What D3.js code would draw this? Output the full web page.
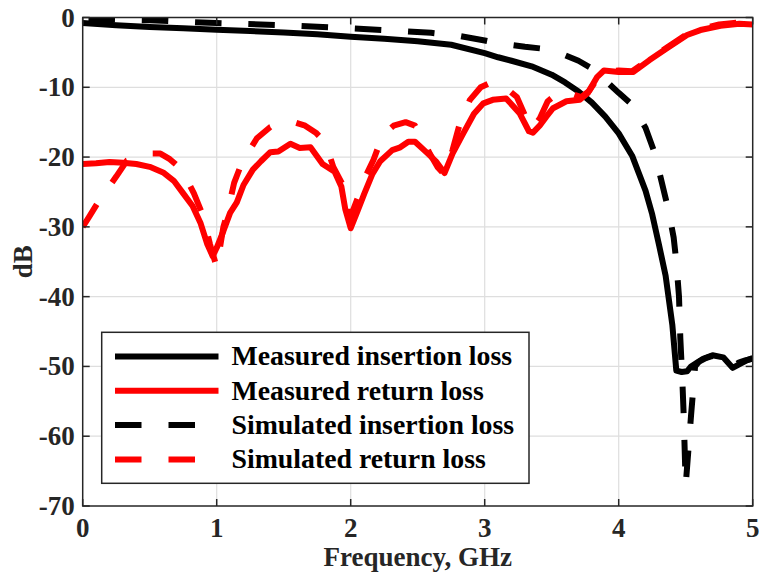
<!DOCTYPE html>
<html>
<head>
<meta charset="utf-8">
<script src="https://cdn.jsdelivr.net/npm/d3@7"></script>
<style>
	body { margin: 0; background: #fff; }
	svg text { font-family: "Liberation Serif", "Times New Roman", serif; font-weight: bold; fill: #262626; }
</style>
</head>
<body>
<div id="chart"></div>
<script>
// measured insertion loss
const measIlFreq = [0, 0.25, 0.5, 0.75, 1.0, 1.25, 1.5, 1.75, 2.0, 2.25, 2.5, 2.75, 3.0, 3.1, 3.2, 3.35, 3.5, 3.6, 3.7, 3.8, 3.9, 4.0, 4.1, 4.15, 4.2, 4.25, 4.3, 4.35, 4.4, 4.43, 4.47, 4.51, 4.54, 4.58, 4.63, 4.7, 4.78, 4.85, 4.92, 4.96, 5.0];
const measIlDb = [-0.8, -1.1, -1.35, -1.55, -1.75, -1.95, -2.15, -2.4, -2.75, -3.05, -3.4, -3.9, -5.1, -5.7, -6.2, -7.0, -8.2, -9.3, -10.6, -12.2, -14.2, -16.6, -19.8, -22.3, -24.8, -28.2, -32.5, -37, -44, -50.6, -50.8, -50.7, -50.0, -49.5, -48.9, -48.4, -48.7, -50.2, -49.5, -49.1, -48.8];

// measured return loss
const measRlFreq = [0, 0.1, 0.2, 0.3, 0.4, 0.5, 0.6, 0.68, 0.75, 0.82, 0.88, 0.93, 0.97, 1.0, 1.05, 1.1, 1.15, 1.2, 1.27, 1.33, 1.4, 1.46, 1.55, 1.62, 1.7, 1.79, 1.88, 1.93, 1.96, 2.0, 2.05, 2.1, 2.16, 2.22, 2.31, 2.37, 2.43, 2.48, 2.57, 2.64, 2.7, 2.76, 2.84, 2.92, 2.99, 3.06, 3.16, 3.26, 3.33, 3.36, 3.41, 3.46, 3.51, 3.61, 3.71, 3.77, 3.84, 3.89, 4.0, 4.11, 4.23, 4.36, 4.51, 4.61, 4.76, 4.9, 5.0];
const measRlDb = [-21.0, -20.9, -20.7, -20.8, -21.0, -21.4, -22.2, -23.4, -25.2, -27.0, -29.5, -32.5, -34.2, -33.0, -30.6, -28.0, -26.5, -24.0, -21.8, -20.6, -19.3, -19.2, -18.1, -18.7, -18.6, -21.0, -22.1, -24.2, -27.5, -30.2, -27.8, -25.3, -22.5, -20.6, -19.0, -18.6, -17.8, -17.8, -19.4, -20.7, -22.3, -19.5, -16.6, -13.8, -12.3, -11.8, -11.6, -13.7, -16.3, -16.5, -15.5, -14.2, -13.0, -12.0, -11.8, -10.8, -8.5, -7.6, -7.8, -7.8, -6.1, -4.4, -2.5, -1.8, -1.2, -0.9, -1.0];

// simulated insertion loss
const simIlFreq = [0, 0.5, 1.0, 1.5, 2.0, 2.3, 2.6, 2.8, 3.0, 3.1, 3.3, 3.45, 3.6, 3.7, 3.8, 3.9, 4.0, 4.1, 4.2, 4.27, 4.32, 4.37, 4.41, 4.43, 4.45, 4.46, 4.475, 4.485, 4.5, 4.52, 4.54, 4.57, 4.6, 4.65, 4.7, 4.75, 4.8, 4.85, 4.9, 4.95, 5.0];
const simIlDb = [-0.2, -0.4, -0.8, -1.1, -1.55, -1.85, -2.2, -2.6, -3.3, -3.7, -4.2, -4.5, -5.4, -6.2, -7.3, -9.0, -10.8, -12.5, -15.8, -19.5, -23.5, -27.5, -31.5, -35, -40, -46, -52, -57, -67, -62, -57, -50, -49.3, -48.8, -48.5, -48.9, -49.5, -50.0, -49.4, -49.1, -48.9];

// simulated return loss
const simRlFreq = [0, 0.05, 0.13, 0.25, 0.33, 0.4, 0.5, 0.58, 0.65, 0.74, 0.83, 0.9, 0.95, 1.0, 1.05, 1.08, 1.13, 1.19, 1.3, 1.4, 1.5, 1.58, 1.66, 1.74, 1.81, 1.87, 1.96, 2.0, 2.05, 2.09, 2.17, 2.24, 2.32, 2.41, 2.48, 2.54, 2.59, 2.65, 2.7, 2.76, 2.82, 2.89, 2.97, 3.05, 3.12, 3.24, 3.3, 3.35, 3.41, 3.47, 3.55, 3.6, 3.66, 3.72, 3.78, 3.85, 3.9, 4.0, 4.1, 4.23, 4.36, 4.5, 4.6, 4.75, 4.9, 5.0];
const simRlDb = [-30, -28.5, -26, -22.8, -20.5, -20, -19.5, -19.5, -20.3, -21.8, -25.2, -28.5, -32.5, -35.8, -30, -28, -23.7, -20.7, -17.3, -15.7, -15.0, -15.0, -15.5, -16.5, -17.9, -21.4, -24.7, -28.5, -26, -23.6, -20.4, -16.8, -15.5, -15.0, -15.5, -17.5, -19.5, -21.5, -22.5, -19, -14.8, -11.8, -10.0, -9.3, -9.5, -11.4, -14, -16, -14.5, -12, -10.8, -10.4, -11.0, -11.4, -10.5, -8.5, -7.8, -7.6, -7.7, -6.0, -4.3, -2.5, -1.7, -1.0, -0.7, -0.8];

const xTicks = [0, 1, 2, 3, 4, 5];
const yTicks = [0, -10, -20, -30, -40, -50, -60, -70];

const series = [
	{ name: "Measured insertion loss", color: "#000", dashed: false, offset: 0, freq: measIlFreq, db: measIlDb },
	{ name: "Measured return loss", color: "#ff0000", dashed: false, offset: 0, freq: measRlFreq, db: measRlDb },
	{ name: "Simulated insertion loss", color: "#000", dashed: true, offset: 47.5, freq: simIlFreq, db: simIlDb },
	{ name: "Simulated return loss", color: "#ff0000", dashed: true, offset: 0, freq: simRlFreq, db: simRlDb }
];

const W = 759, H = 575;
const mLeft = 82.7, mRight = 752.7, mTop = 17.5, mBottom = 506;
const axisColor = "#262626";

const x = d3.scaleLinear().domain([0, 5]).range([mLeft, mRight]);
const y = d3.scaleLinear().domain([-70, 0]).range([mBottom, mTop]);

const svg = d3.select("#chart").append("svg")
	.attr("width", W)
	.attr("height", H);

svg.append("defs").append("clipPath").attr("id", "plotClip")
	.append("rect")
	.attr("x", mLeft).attr("y", mTop)
	.attr("width", mRight - mLeft).attr("height", mBottom - mTop);

// grid
const grid = svg.append("g").attr("class", "grid");
grid.selectAll(".gx").data(xTicks.slice(1, -1)).enter().append("line")
	.attr("x1", d => x(d)).attr("x2", d => x(d))
	.attr("y1", mTop).attr("y2", mBottom)
	.style("stroke", "#dedede").style("stroke-width", 1.2);
grid.selectAll(".gy").data(yTicks.slice(1, -1)).enter().append("line")
	.attr("x1", mLeft).attr("x2", mRight)
	.attr("y1", d => y(d)).attr("y2", d => y(d))
	.style("stroke", "#dedede").style("stroke-width", 1.2);

const line = d3.line()
	.x(d => x(d[0]))
	.y(d => y(d[1]));

const plot = svg.append("g").attr("clip-path", "url(#plotClip)");
plot.selectAll("path.curve")
	.data(series)
	.enter().append("path")
	.attr("class", "curve")
	.attr("d", s => line(s.freq.map((f, i) => [f, s.db[i]])))
	.style("fill", "none")
	.style("stroke", s => s.color)
	.style("stroke-width", 6)
	.style("stroke-linejoin", "round")
	.style("stroke-dasharray", s => s.dashed ? "26.5,26.8" : null)
	.style("stroke-dashoffset", s => s.offset);

// axes box with inward ticks on all sides
const tickLen = 7;
const axes = svg.append("g");
axes.append("rect")
	.attr("x", mLeft).attr("y", mTop)
	.attr("width", mRight - mLeft).attr("height", mBottom - mTop)
	.style("fill", "none").style("stroke", axisColor).style("stroke-width", 1.5);

xTicks.forEach(t => {
	axes.append("line").attr("x1", x(t)).attr("x2", x(t)).attr("y1", mBottom).attr("y2", mBottom - tickLen)
		.style("stroke", axisColor).style("stroke-width", 1.5);
	axes.append("line").attr("x1", x(t)).attr("x2", x(t)).attr("y1", mTop).attr("y2", mTop + tickLen)
		.style("stroke", axisColor).style("stroke-width", 1.5);
});
yTicks.forEach(t => {
	axes.append("line").attr("x1", mLeft).attr("x2", mLeft + tickLen).attr("y1", y(t)).attr("y2", y(t))
		.style("stroke", axisColor).style("stroke-width", 1.5);
	axes.append("line").attr("x1", mRight).attr("x2", mRight - tickLen).attr("y1", y(t)).attr("y2", y(t))
		.style("stroke", axisColor).style("stroke-width", 1.5);
});

axes.selectAll(".xl").data(xTicks).enter().append("text")
	.attr("x", d => x(d))
	.attr("y", mBottom + 30.5)
	.attr("text-anchor", "middle")
	.style("font-size", "27px")
	.text(d => d);

axes.selectAll(".yl").data(yTicks).enter().append("text")
	.attr("x", mLeft - 8)
	.attr("y", d => y(d) + 9)
	.attr("text-anchor", "end")
	.style("font-size", "27px")
	.text(d => d);

svg.append("text")
	.attr("x", (mLeft + mRight) / 2)
	.attr("y", 566)
	.attr("text-anchor", "middle")
	.style("font-size", "27px")
	.text("Frequency, GHz");

svg.append("text")
	.attr("transform", `translate(32, ${(mTop + mBottom) / 2}) rotate(-90)`)
	.attr("text-anchor", "middle")
	.style("font-size", "27px")
	.text("dB");

// legend
const legend = svg.append("g");
legend.append("rect")
	.attr("x", 101.7).attr("y", 332.3)
	.attr("width", 427.3).attr("height", 151)
	.style("fill", "#fff").style("stroke", axisColor).style("stroke-width", 1.5);

const rows = legend.selectAll(".row").data(series).enter().append("g")
	.attr("transform", (d, i) => `translate(0, ${356.5 + i * 34.3})`);
rows.append("line")
	.attr("x1", 115).attr("x2", 218.5)
	.style("stroke", d => d.color)
	.style("stroke-width", 6)
	.style("stroke-dasharray", d => d.dashed ? "26.5,27" : null);
rows.append("text")
	.attr("x", 231.5)
	.attr("y", 8.7)
	.style("font-size", "27.8px")
	.style("fill", "#000")
	.text(d => d.name);
</script>
</body>
</html>
